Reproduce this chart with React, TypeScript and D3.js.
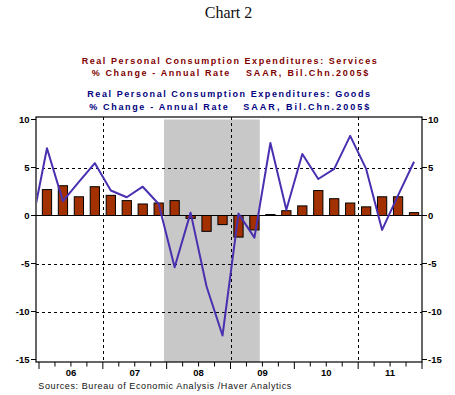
import React, { useEffect } from 'react';
import * as d3 from 'd3';

// quarters shown on the chart (2006Q1 .. 2011Q4)
const quarters = [
  '2006Q1', '2006Q2', '2006Q3', '2006Q4',
  '2007Q1', '2007Q2', '2007Q3', '2007Q4',
  '2008Q1', '2008Q2', '2008Q3', '2008Q4',
  '2009Q1', '2009Q2', '2009Q3', '2009Q4',
  '2010Q1', '2010Q2', '2010Q3', '2010Q4',
  '2011Q1', '2011Q2', '2011Q3', '2011Q4',
];

// Services, % change annual rate
const services = [
  2.7, 3.1, 1.95, 3.0,
  2.1, 1.55, 1.2, 1.3,
  1.55, -0.3, -1.65, -0.95,
  -2.25, -1.5, 0.1, 0.5,
  1.0, 2.6, 1.75, 1.3,
  0.9, 1.95, 1.95, 0.3,
];

// Goods line starts one quarter earlier (clipped at the left edge)
const goodsQuarters = ['2005Q4', ...quarters];
const goods = [
  -1.4,
  7.0, 1.5, 3.5, 5.45,
  2.6, 1.9, 3.0, 1.2,
  -5.4, 0.3, -7.4, -12.5,
  0.2, -2.3, 7.55, 0.6,
  6.4, 3.8, 4.85, 8.3,
  4.85, -1.5, 2.1, 5.6,
];

const yearLabels = ['06', '07', '08', '09', '10', '11'];
const yTicks = [-15, -10, -5, 0, 5, 10];
const dashedYears = [2007, 2009, 2011];
const recession = [2007 + 11.5 / 12, 2009 + 5.5 / 12];

const W = 455;
const H = 395;

const qPos = (q: string) => +q.slice(0, 4) + (+q.slice(5) - 0.5) / 4;

const App = () => {
  useEffect(() => {
    document.body.style.margin = '0';
  }, []);

  const x = d3.scaleLinear().domain([2006, 2012]).range([39, 422]);
  const y = d3.scaleLinear().domain([-15, 10]).range([359.5, 119.5]);

  const left = x(2006) - 3;
  const right = x(2012);
  const top = y(10) - 2.5;
  const bottom = y(-15) + 2.5;
  const qw = x(2006.25) - x(2006);
  const barW = qw * 0.58;

  const line = d3.line<number>()
    .x((d, i) => x(qPos(goodsQuarters[i])))
    .y(d => y(d));

  const qTicks = d3.range(0, 25).map(i => 2006 + i / 4);

  const sans = "'Liberation Sans', Arial, sans-serif";
  const red = '#800000';
  const navy = '#000080';

  return (
    <svg width={W} height={H} style={{ position: 'absolute', left: 0, top: 0, background: '#fff' }}>
      <defs>
        <clipPath id="plot">
          <rect x={left + 1} y={top} width={right - left - 1} height={bottom - top} />
        </clipPath>
      </defs>

      <text x={228.5} y={17.5} textAnchor="middle" fontFamily="'Liberation Serif', 'Times New Roman', serif" fontSize={16} fill="#111">Chart 2</text>

      <g fontFamily={sans} fontWeight="bold" fontSize={9}>
        <text x={81.7} y={64} fill={red} textLength={295} lengthAdjust="spacing">Real Personal Consumption Expenditures: Services</text>
        <text x={91.7} y={76} fill={red} textLength={137.6} lengthAdjust="spacing">% Change - Annual Rate</text>
        <text x={246} y={76} fill={red} textLength={122.3} lengthAdjust="spacing">SAAR, Bil.Chn.2005$</text>
        <text x={87.3} y={96.7} fill={navy} textLength={282.7} lengthAdjust="spacing">Real Personal Consumption Expenditures: Goods</text>
        <text x={89.3} y={110} fill={navy} textLength={138.4} lengthAdjust="spacing">% Change - Annual Rate</text>
        <text x={243.3} y={110} fill={navy} textLength={126} lengthAdjust="spacing">SAAR, Bil.Chn.2005$</text>
      </g>

      {/* recession shading */}
      <rect x={x(recession[0])} y={y(10)} width={x(recession[1]) - x(recession[0])} height={bottom - y(10)} fill="#c8c8c8" />

      {/* dashed grid */}
      <g stroke="#000" strokeWidth={1} strokeDasharray="3,3" shapeRendering="crispEdges">
        {yTicks.filter(t => t !== 0 && t !== 10 && t !== -15).map(t => (
          <line key={t} x1={left} x2={right} y1={Math.round(y(t)) + 0.5} y2={Math.round(y(t)) + 0.5} />
        ))}
        {dashedYears.map(yr => (
          <line key={yr} x1={Math.round(x(yr)) + 0.5} x2={Math.round(x(yr)) + 0.5} y1={top} y2={bottom} />
        ))}
      </g>

      {/* services bars */}
      <g fill="#a33100" stroke="#000" strokeWidth={1}>
        {services.map((v, i) => {
          const cx = x(qPos(quarters[i]));
          const y0 = y(0);
          const y1 = y(v);
          return (
            <rect key={quarters[i]} x={cx - barW / 2} y={Math.min(y0, y1)} width={barW} height={Math.max(Math.abs(y1 - y0), 0.8)} />
          );
        })}
      </g>

      {/* zero line */}
      <line x1={left} x2={right} y1={y(0)} y2={y(0)} stroke="#000" strokeWidth={1.2} />

      {/* goods line */}
      <path d={line(goods) || ''} fill="none" stroke="#4a30b0" strokeWidth={2} strokeLinejoin="round" clipPath="url(#plot)" />

      {/* frame */}
      <rect x={left} y={top} width={right - left} height={bottom - top} fill="none" stroke="#000" strokeWidth={1.2} />

      {/* y axes */}
      <g fontFamily={sans} fontWeight="bold" fontSize={9.5} fill="#000">
        {yTicks.map(t => (
          <g key={t}>
            <line x1={left - 5} x2={left} y1={y(t)} y2={y(t)} stroke="#000" />
            <line x1={right} x2={right + 5} y1={y(t)} y2={y(t)} stroke="#000" />
            <text x={29.5} y={y(t) + 3.4} textAnchor="end">{t}</text>
            <text x={428} y={y(t) + 3.4}>{t}</text>
          </g>
        ))}
      </g>

      {/* x axis */}
      <g stroke="#000" strokeWidth={1}>
        {qTicks.map((t, i) => (
          <line key={i} x1={x(t)} x2={x(t)} y1={bottom} y2={bottom + (i % 4 === 0 ? 7 : 4.5)} />
        ))}
      </g>
      <g fontFamily={sans} fontWeight="bold" fontSize={9.5} fill="#000">
        {yearLabels.map((lab, i) => (
          <text key={lab} x={x(2006 + i + 0.5)} y={376} textAnchor="middle">{lab}</text>
        ))}
      </g>

      <text x={38.3} y={388.5} fontFamily={sans} fontSize={9} fill="#111" textLength={253} lengthAdjust="spacing">Sources:  Bureau of Economic Analysis /Haver Analytics</text>
    </svg>
  );
};

export default App;
